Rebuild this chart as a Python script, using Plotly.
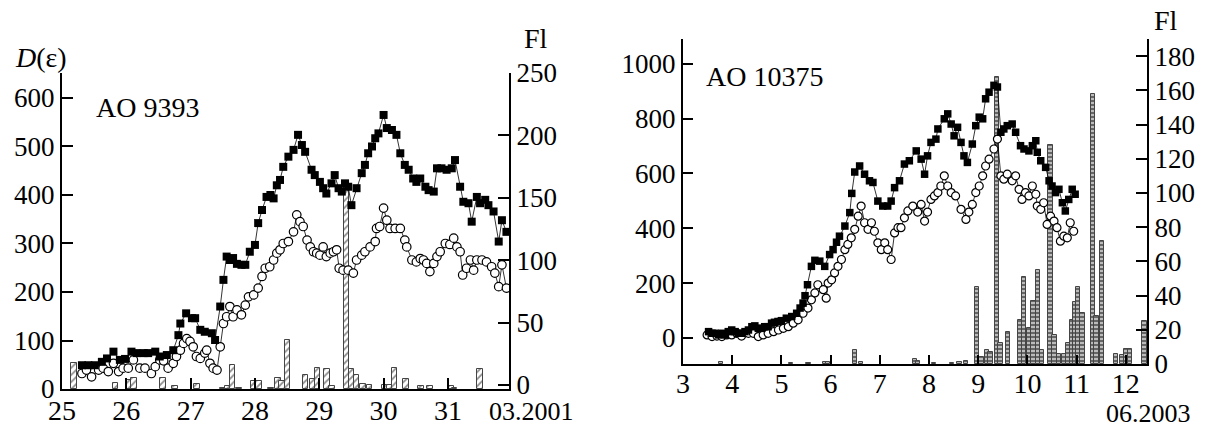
import plotly.graph_objects as go

# ---------------- Left panel: AO 9393 (March 2001) ----------------
LS_t = [25.31, 25.41, 25.51, 25.62, 25.70, 25.80, 25.90, 25.98, 26.08, 26.16, 26.27, 26.34, 26.45, 26.52,
        26.63, 26.73, 26.81, 26.84, 26.93, 27.02, 27.07, 27.15, 27.22, 27.33, 27.38, 27.46, 27.51, 27.56,
        27.61, 27.66, 27.72, 27.79, 27.85, 27.92, 28.00, 28.05, 28.11, 28.18, 28.24, 28.29, 28.34,
        28.39, 28.44, 28.52, 28.60, 28.67, 28.73, 28.78, 28.88, 28.93, 29.01, 29.06, 29.11, 29.19, 29.24,
        29.30, 29.35, 29.40, 29.45, 29.50, 29.58, 29.66, 29.71, 29.76, 29.82, 29.87, 29.92, 30.00, 30.05,
        30.13, 30.20, 30.26, 30.33, 30.39, 30.46, 30.51, 30.57, 30.65, 30.70, 30.78, 30.83, 30.90, 30.98,
        31.06, 31.11, 31.19, 31.24, 31.32, 31.37, 31.45, 31.50, 31.58, 31.63, 31.71, 31.79, 31.84, 31.91]
LS_v = [49, 49, 49, 56, 63, 77, 60, 62, 77, 74, 74, 74, 77, 67,
        70, 80, 111, 135, 156, 146, 146, 122, 118, 115, 101, 170, 225, 273,
        266, 270, 258, 256, 256, 283, 297, 342, 369, 396, 400, 393, 420,
        431, 458, 479, 493, 524, 503, 489, 452, 441, 427, 414, 403, 424, 441,
        414, 407, 424, 417, 379, 414, 445, 462, 486, 500, 517, 527, 565, 538,
        534, 524, 486, 462, 452, 434, 427, 434, 417, 410, 407, 455, 455, 452,
        455, 472, 417, 386, 383, 345, 396, 383, 390, 379, 366, 304, 348, 324]

LC_t = [25.31, 25.38, 25.46, 25.57, 25.64, 25.72, 25.80, 25.88, 25.95, 26.03, 26.11, 26.21, 26.29, 26.39,
        26.45, 26.52, 26.58, 26.65, 26.73, 26.78, 26.84, 26.89, 26.94, 26.99, 27.04, 27.09, 27.15, 27.22,
        27.25, 27.30, 27.35, 27.41, 27.46, 27.51, 27.56, 27.61, 27.66, 27.72, 27.79, 27.85, 27.90, 27.98,
        28.05, 28.11, 28.16, 28.23, 28.29, 28.34,
        28.39, 28.44, 28.52, 28.60, 28.65, 28.70, 28.75, 28.81, 28.86, 28.91, 28.96, 29.01, 29.06, 29.11,
        29.17, 29.22, 29.27, 29.31, 29.37, 29.45, 29.53, 29.58, 29.66, 29.71, 29.79, 29.87, 29.89, 29.94,
        30.00, 30.05, 30.10, 30.18, 30.26, 30.33, 30.36, 30.44, 30.51, 30.57, 30.62, 30.67, 30.72, 30.78,
        30.83, 30.88, 30.96, 31.03, 31.09, 31.14, 31.19, 31.23, 31.29, 31.35, 31.40, 31.45, 31.53, 31.60,
        31.68, 31.73, 31.79, 31.84, 31.91]
LC_v = [32, 39, 25, 39, 43, 36, 53, 36, 43, 43, 60, 43, 43, 32,
        46, 60, 58, 43, 53, 67, 80, 94, 104, 98, 87, 67, 63, 74,
        80, 53, 43, 39, 87, 135, 149, 170, 149, 163, 153, 173, 190, 194,
        208, 232, 249, 252, 266, 280,
        287, 300, 304, 324, 359, 345, 335, 307, 293, 283, 280, 276, 293, 273,
        280, 283, 287, 249, 245, 245, 239, 266, 276, 283, 293, 304, 331, 335,
        373, 348, 331, 331, 331, 307, 293, 266, 262, 269, 266, 259, 242, 259,
        273, 283, 300, 298, 311, 293, 283, 235, 249, 266, 245, 266, 266, 262,
        252, 239, 211, 256, 208]

LB_t = [25.19, 25.83, 26.05, 26.12, 26.57, 26.76, 27.10, 27.50, 27.58, 27.65, 27.75, 27.98, 28.06, 28.25,
        28.36, 28.42, 28.51, 28.79, 28.90, 28.97, 29.12, 29.20, 29.42, 29.50, 29.58, 29.68, 29.78, 30.02,
        30.10, 30.17, 30.35, 30.58, 30.72, 31.05, 31.10, 31.50]
LB_v = [21, 5, 7, 9, 9, 2, 4, 1, 2, 19, 1, 6, 6, 1,
        9, 6, 39, 11, 8, 17, 16, 2, 165, 16, 11, 4, 3, 3,
        3, 17, 8, 2, 2, 2, 1, 16]

# ---------------- Right panel: AO 10375 (June 2003) ----------------
RS_t = [3.52, 3.59, 3.65, 3.72, 3.79, 3.86, 3.92, 3.99, 4.06, 4.12, 4.19, 4.26, 4.33, 4.40, 4.46, 4.53,
        4.60, 4.66, 4.73, 4.80, 4.86, 4.93, 5.00, 5.10, 5.21, 5.31, 5.38, 5.44, 5.48, 5.53, 5.61, 5.68,
        5.78, 5.88, 5.98, 6.05, 6.12, 6.18, 6.29, 6.39, 6.43, 6.49, 6.59, 6.69, 6.79, 6.86, 6.96, 7.06,
        7.16, 7.23, 7.30, 7.40, 7.50, 7.60, 7.74, 7.84, 7.91, 7.97, 8.04, 8.14, 8.18, 8.31, 8.38, 8.45,
        8.51, 8.58, 8.65, 8.71, 8.78, 8.88, 8.95, 9.02, 9.09, 9.15, 9.22, 9.32, 9.39, 9.46, 9.52, 9.59,
        9.69, 9.76, 9.86, 9.93, 10.03, 10.10, 10.17, 10.20, 10.27, 10.37, 10.44, 10.50, 10.57, 10.64,
        10.71, 10.77, 10.84, 10.91, 10.97]
RS_v = [23, 17, 17, 11, 17, 11, 23, 29, 23, 17, 17, 23, 29, 41, 44, 35,
        35, 41, 41, 54, 57, 60, 63, 72, 78, 90, 109, 127, 154, 194, 261, 283,
        280, 261, 304, 322, 349, 371, 408, 457, 527, 605, 627, 597, 573, 567, 499, 481,
        481, 499, 548, 573, 634, 646, 682, 652, 597, 664, 713, 725, 762, 799, 817, 780,
        737, 768, 713, 664, 640, 707, 774, 805, 799, 872, 896, 921, 915, 750, 762, 774,
        780, 750, 701, 689, 682, 701, 719, 677, 646, 622, 573, 554, 530, 542,
        493, 463, 505, 542, 524]

RC_t = [3.49, 3.59, 3.69, 3.79, 3.89, 3.99, 4.09, 4.19, 4.33, 4.43, 4.53, 4.63, 4.73, 4.84, 4.94, 5.04,
        5.14, 5.24, 5.34, 5.44, 5.54, 5.61, 5.68, 5.74, 5.85, 5.91, 5.95, 6.02, 6.08, 6.15, 6.22, 6.29,
        6.35, 6.42, 6.49, 6.56, 6.62, 6.69, 6.76, 6.83, 6.89, 6.96, 7.03, 7.10, 7.16, 7.23, 7.30, 7.37,
        7.43, 7.50, 7.57, 7.67, 7.77, 7.84, 7.91, 7.97, 8.04, 8.11, 8.18, 8.24, 8.31, 8.38, 8.45, 8.54,
        8.65, 8.75, 8.81, 8.88, 8.95, 9.02, 9.09, 9.15, 9.22, 9.32, 9.39, 9.46, 9.52, 9.59, 9.69, 9.76,
        9.83, 9.89, 9.96, 10.03, 10.10, 10.17, 10.20, 10.27, 10.33, 10.40, 10.47, 10.54, 10.60, 10.67,
        10.74, 10.81, 10.87, 10.94]
RC_v = [11, 5, 7, 5, 11, 11, 17, 7, 17, 17, 5, 11, 17, 23, 29, 35,
        41, 54, 66, 90, 109, 139, 164, 194, 176, 145, 200, 212, 237, 261, 286, 322,
        341, 365, 396, 444, 481, 420, 396, 420, 389, 347, 322, 347, 322, 286, 383, 402,
        402, 438, 463, 481, 459, 487, 426, 459, 505, 518, 530, 554, 591, 554, 530, 518,
        469, 432, 459, 487, 530, 554, 591, 627, 652, 689, 725, 591, 579, 597, 573, 591,
        542, 505, 530, 518, 554, 524, 481, 469, 493, 414, 444, 426, 402, 353,
        371, 365, 420, 389]

RB_t = [3.77, 5.20, 5.55, 5.88, 5.95, 6.50, 6.62, 7.72, 7.78, 8.10, 8.47, 8.62, 8.75, 8.98, 9.07, 9.18,
        9.25, 9.38, 9.45, 9.60, 9.85, 9.93, 10.03, 10.12, 10.22, 10.30, 10.47, 10.55, 10.64, 10.75, 10.82,
        10.92, 10.98, 11.03, 11.12, 11.33, 11.40, 11.52, 11.80, 11.93, 12.01, 12.09, 12.38]
RB_v = [1, 0.5, 0.5, 1, 1, 8, 1, 3, 2, 0.5, 0.5, 1, 2, 45, 4, 8,
        7, 168, 12, 19, 26, 51, 21, 37, 55, 8, 128, 17, 6, 6, 12,
        26, 36, 45, 30, 158, 28, 72, 6, 5, 9, 9, 25]

LEFT_X_TICKS = [25, 26, 27, 28, 29, 30, 31]
LEFT_D_TICKS = [0, 100, 200, 300, 400, 500, 600]
LEFT_FL_TICKS = [0, 50, 100, 150, 200, 250]
RIGHT_X_TICKS = [3, 4, 5, 6, 7, 8, 9, 10, 11, 12]
RIGHT_D_TICKS = [0, 200, 400, 600, 800, 1000]
RIGHT_FL_TICKS = [0, 20, 40, 60, 80, 100, 120, 140, 160, 180]

W, H = 1211, 427
SERIF = "Liberation Serif, Times New Roman, serif"

def px_x(p):
    return p / W

def px_y(p):
    return 1 - p / H

fig = go.Figure()

# bars (on main right-side Fl axes, drawn beneath)
fig.add_trace(go.Bar(
    x=LB_t, y=LB_v, base=-3, width=0.085, xaxis="x", yaxis="y",
    marker=dict(color="white", line=dict(color="#444", width=1),
                pattern=dict(shape="/", fgcolor="#222", bgcolor="white", size=5, solidity=0.35)),
    showlegend=False))
fig.add_trace(go.Bar(
    x=RB_t, y=RB_v, width=0.09, xaxis="x2", yaxis="y3",
    marker=dict(color="white", line=dict(color="#444", width=1),
                pattern=dict(shape="-", fgcolor="#111", bgcolor="#bbb", size=4, solidity=0.5)),
    showlegend=False))

# lines with markers (on overlay D axes)
fig.add_trace(go.Scatter(x=LC_t, y=LC_v, xaxis="x", yaxis="y2", mode="lines+markers",
                         line=dict(color="black", width=0.8),
                         marker=dict(symbol="circle", size=8.5, color="white",
                                     line=dict(color="black", width=1.2)),
                         showlegend=False))
fig.add_trace(go.Scatter(x=LS_t, y=LS_v, xaxis="x", yaxis="y2", mode="lines+markers",
                         line=dict(color="black", width=0.8),
                         marker=dict(symbol="square", size=8, color="black"),
                         showlegend=False))
fig.add_trace(go.Scatter(x=RC_t, y=RC_v, xaxis="x2", yaxis="y4", mode="lines+markers",
                         line=dict(color="black", width=0.8),
                         marker=dict(symbol="circle", size=8, color="white",
                                     line=dict(color="black", width=1.2)),
                         showlegend=False))
fig.add_trace(go.Scatter(x=RS_t, y=RS_v, xaxis="x2", yaxis="y4", mode="lines+markers",
                         line=dict(color="black", width=0.8),
                         marker=dict(symbol="square", size=7.5, color="black"),
                         showlegend=False))

tickfont = dict(family=SERIF, size=27, color="black")
xtickfont = dict(family=SERIF, size=28, color="black")
common = dict(showgrid=False, zeroline=False, showline=True, linecolor="black", linewidth=2,
              ticks="inside", tickcolor="black", tickwidth=2, automargin=False)

fig.update_layout(
    width=W, height=H, margin=dict(l=0, r=0, t=0, b=0, autoexpand=False),
    paper_bgcolor="white", plot_bgcolor="white", bargap=0,
    xaxis=dict(domain=[px_x(62), px_x(509)], range=[25, 31.95], anchor="y",
               tickvals=LEFT_X_TICKS, ticklen=11, tickfont=xtickfont, ticklabelstandoff=-5, **common),
    yaxis=dict(domain=[px_y(389), px_y(73)], range=[-3.2, 250], anchor="x", side="right",
               tickvals=LEFT_FL_TICKS, ticklen=11, tickfont=tickfont, **common),
    yaxis2=dict(domain=[px_y(389), px_y(73)], range=[0, 651.5], anchor="x", side="left",
                overlaying="y", tickvals=LEFT_D_TICKS, ticklen=11, tickfont=tickfont, **common),
    xaxis2=dict(domain=[px_x(683), px_x(1147)], range=[3, 12.43], anchor="y3",
                tickvals=RIGHT_X_TICKS, ticklen=9, tickfont=xtickfont, ticklabelstandoff=-7, **common),
    yaxis3=dict(domain=[px_y(364), px_y(39)], range=[0, 190], anchor="x2", side="right",
                tickvals=RIGHT_FL_TICKS, ticklen=11, tickfont=tickfont, **common),
    yaxis4=dict(domain=[px_y(364), px_y(39)], range=[-95, 1090], anchor="x2", side="left",
                overlaying="y3", tickvals=RIGHT_D_TICKS, ticklen=10, tickfont=tickfont, **common),
)

ann_font = dict(family=SERIF, size=28, color="black")
small_font = dict(family=SERIF, size=26, color="black")
anns = [
    dict(text="<i>D</i>(ε)", x=px_x(13), y=px_y(57), xanchor="left", yanchor="middle", font=ann_font),
    dict(text="Fl", x=px_x(536), y=px_y(39), xanchor="center", yanchor="middle", font=ann_font),
    dict(text="AO 9393", x=px_x(94), y=px_y(107), xanchor="left", yanchor="middle", font=ann_font),
    dict(text="03.2001", x=px_x(531), y=px_y(411), xanchor="center", yanchor="middle", font=small_font),
    dict(text="AO 10375", x=px_x(704), y=px_y(77), xanchor="left", yanchor="middle", font=ann_font),
    dict(text="Fl", x=px_x(1166), y=px_y(20), xanchor="center", yanchor="middle", font=ann_font),
    dict(text="06.2003", x=px_x(1148), y=px_y(413), xanchor="center", yanchor="middle", font=small_font),
]
for a in anns:
    fig.add_annotation(xref="paper", yref="paper", showarrow=False, **a)

fig.write_html("out.html")
